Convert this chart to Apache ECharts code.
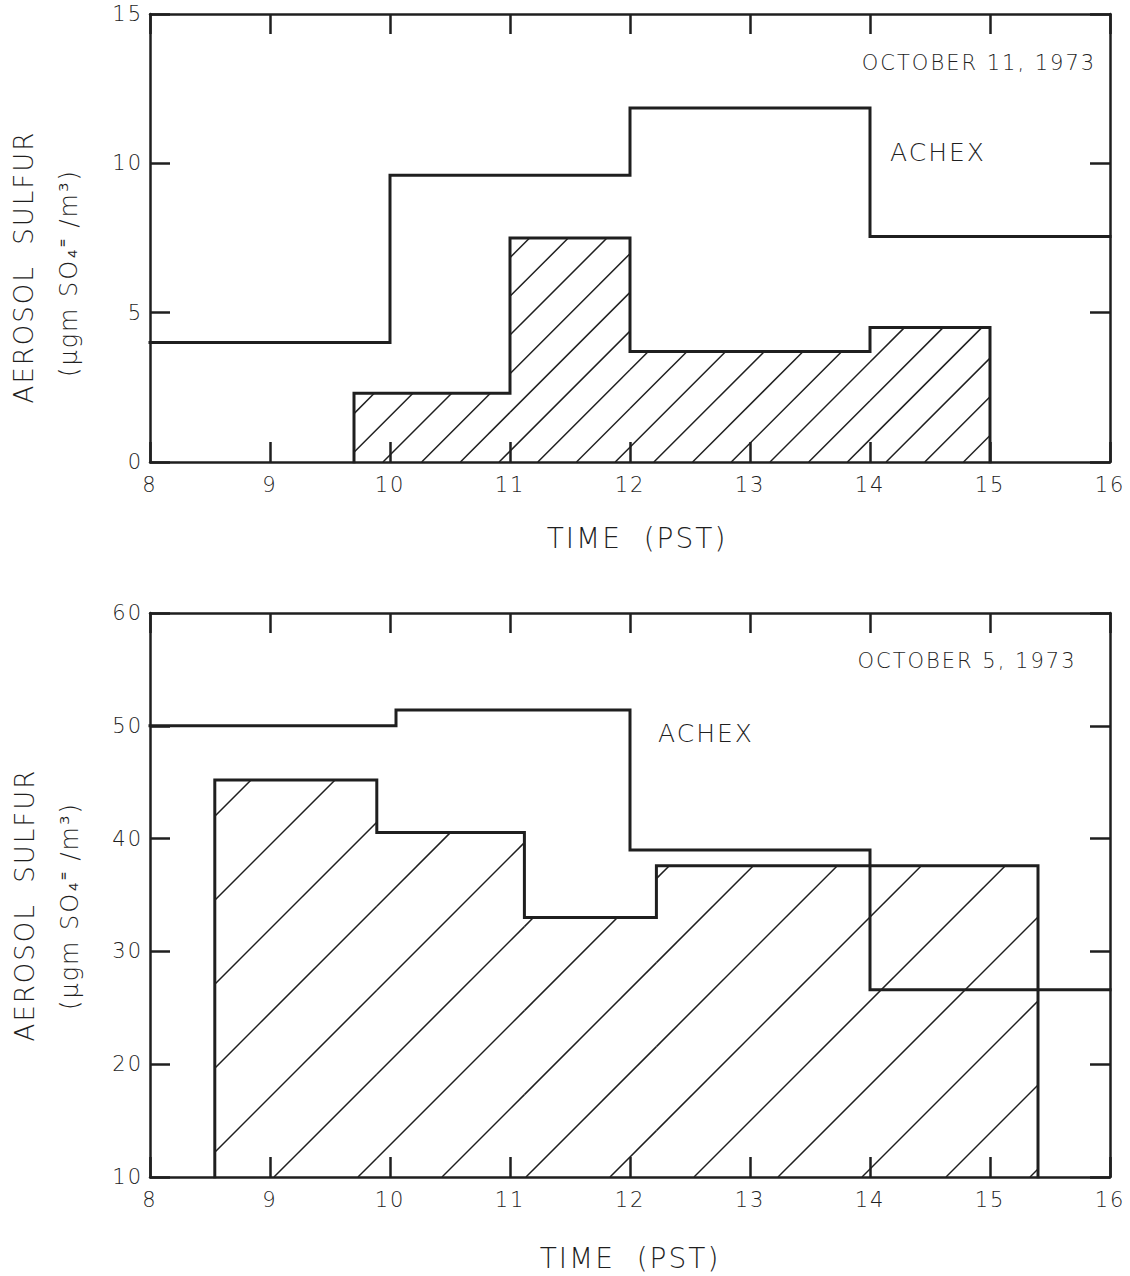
<!DOCTYPE html>
<html>
<head>
<meta charset="utf-8">
<script src="https://cdn.jsdelivr.net/npm/echarts@6/dist/echarts.min.js"></script>
<style>
  html, body { margin: 0; padding: 0; background: #fff; }
  #chart { width: 1130px; height: 1276px; }
  /* hand-lettered look: open up the glyph spacing */
  #chart text { letter-spacing: 2px; }
</style>
</head>
<body>
<div id="chart"></div>
<script>
// ---- data ----------------------------------------------------------------
// Time axis (hours, PST)
const hourMin = 8;
const hourMax = 16;

// October 11, 1973: ACHEX sampler intervals and values (ug SO4=/m3)
const oct11AchexEdges  = [8, 10, 12, 14, 16];
const oct11AchexValues = [4.0, 9.6, 11.85, 7.55];
// October 11, 1973: hatched (filter) sampler intervals and values
const oct11FilterEdges  = [9.7, 11, 12, 14, 15];
const oct11FilterValues = [2.3, 7.5, 3.7, 4.5];
const oct11YRange = [0, 15, 5];   // min, max, step

// October 5, 1973: ACHEX sampler
const oct5AchexEdges  = [8, 10.05, 12, 14, 16];
const oct5AchexValues = [50, 51.4, 39.0, 26.6];
// October 5, 1973: hatched (filter) sampler
const oct5FilterEdges  = [8.54, 9.89, 11.12, 12.22, 15.4];
const oct5FilterValues = [45.2, 40.55, 33.0, 37.6];
const oct5YRange = [10, 60, 10];

// ---- helpers -------------------------------------------------------------
const INK = '#1f1f1f';
const FONT = 'DejaVu Sans';

// Corner points for a step outline (step: 'end'); optional base closes the box
function stepPoints(edges, values, base) {
  const pts = [];
  if (base != null) pts.push([edges[0], base]);
  values.forEach((v, i) => pts.push([edges[i], v]));
  pts.push([edges[edges.length - 1], values[values.length - 1]]);
  if (base != null) pts.push([edges[edges.length - 1], base]);
  return pts;
}

// [start, end, value] rows for the hatch renderer
function intervals(edges, values) {
  return values.map((v, i) => [edges[i], edges[i + 1], v]);
}

// Diagonal hatching (x + y = const in pixels) clipped to each interval box
function hatchRenderer(base, spacing, phase) {
  return function (params, api) {
    const tl = api.coord([api.value(0), api.value(2)]);
    const br = api.coord([api.value(1), base]);
    const L = tl[0], T = tl[1], R = br[0], B = br[1];
    const children = [];
    const k0 = Math.ceil((L + T - phase) / spacing);
    const k1 = Math.floor((R + B - phase) / spacing);
    for (let k = k0; k <= k1; k++) {
      const c = phase + k * spacing;
      const ya = Math.max(T, c - R);
      const yb = Math.min(B, c - L);
      if (yb - ya < 1) continue;
      children.push({
        type: 'line',
        shape: { x1: c - ya, y1: ya, x2: c - yb, y2: yb },
        style: { stroke: INK, lineWidth: 1.5 }
      });
    }
    return { type: 'group', children };
  };
}

function xAxes(gridIndex) {
  const common = {
    type: 'value', gridIndex, min: hourMin, max: hourMax, interval: 1,
    axisLine: { show: true, onZero: false, lineStyle: { color: INK, width: 2.5 } },
    axisTick: { show: true, inside: true, length: 20, lineStyle: { color: INK, width: 2.5 } },
    splitLine: { show: false }
  };
  return [
    Object.assign({}, common, {
      position: 'bottom',
      axisLabel: { show: true, margin: 12, color: INK, fontFamily: FONT, fontSize: 21, fontWeight: 200 }
    }),
    Object.assign({}, common, { position: 'top', axisLabel: { show: false } })
  ];
}

function yAxes(gridIndex, range) {
  const common = {
    type: 'value', gridIndex, min: range[0], max: range[1], interval: range[2],
    axisLine: { show: true, onZero: false, lineStyle: { color: INK, width: 2.5 } },
    axisTick: { show: true, inside: true, length: 20, lineStyle: { color: INK, width: 2.5 } },
    splitLine: { show: false }
  };
  return [
    Object.assign({}, common, {
      position: 'left',
      axisLabel: { show: true, margin: 7, color: INK, fontFamily: FONT, fontSize: 21, fontWeight: 200 }
    }),
    Object.assign({}, common, { position: 'right', axisLabel: { show: false } })
  ];
}

function stepLine(xi, yi, data, z) {
  return {
    type: 'line', xAxisIndex: xi, yAxisIndex: yi, step: 'end',
    symbol: 'none', silent: true, z: z || 3,
    lineStyle: { color: INK, width: 3, cap: 'square', join: 'miter' },
    data
  };
}

function hatchSeries(xi, yi, edges, values, base, spacing, phase) {
  return {
    type: 'custom', xAxisIndex: xi, yAxisIndex: yi, silent: true, z: 2,
    renderItem: hatchRenderer(base, spacing, phase),
    encode: { x: [0, 1], y: 2 },
    data: intervals(edges, values)
  };
}

function label(text, x, y, size, rotate) {
  return {
    type: 'text', x, y, rotation: rotate ? Math.PI / 2 : 0, silent: true,
    style: {
      text, fill: INK, font: `200 ${size}px "${FONT}"`,
      textAlign: 'center', textVerticalAlign: 'middle'
    }
  };
}

// ---- chart ---------------------------------------------------------------
const chart = echarts.init(document.getElementById('chart'), null, { renderer: 'svg' });

chart.setOption({
  animation: false,
  backgroundColor: '#ffffff',
  grid: [
    { left: 150, right: 20, top: 14, height: 448 },
    { left: 150, right: 20, top: 613, height: 564 }
  ],
  xAxis: [].concat(xAxes(0), xAxes(1)),
  yAxis: [].concat(yAxes(0, oct11YRange), yAxes(1, oct5YRange)),
  series: [
    hatchSeries(0, 0, oct11FilterEdges, oct11FilterValues, oct11YRange[0], 38.7, 845),
    stepLine(0, 0, stepPoints(oct11FilterEdges, oct11FilterValues, oct11YRange[0])),
    stepLine(0, 0, stepPoints(oct11AchexEdges, oct11AchexValues)),
    hatchSeries(2, 2, oct5FilterEdges, oct5FilterValues, oct5YRange[0], 84, 1451),
    stepLine(2, 2, stepPoints(oct5FilterEdges, oct5FilterValues, oct5YRange[0])),
    stepLine(2, 2, stepPoints(oct5AchexEdges, oct5AchexValues))
  ],
  graphic: [
    label('OCTOBER 11, 1973', 979, 63, 21),
    label('ACHEX', 938, 152, 25),
    label('TIME  (PST)', 637, 538, 28),
    label('AEROSOL  SULFUR', 24, 267, 26, true),
    label('(\u03BCgm SO\u2084\u207C /m\u00B3)', 69, 273, 24, true),

    label('OCTOBER 5, 1973', 967, 661, 21),
    label('ACHEX', 706, 733, 25),
    label('TIME  (PST)', 630, 1258, 28),
    label('AEROSOL  SULFUR', 25, 905, 26, true),
    label('(\u03BCgm SO\u2084\u207C /m\u00B3)', 70, 906, 24, true)
  ]
});
</script>
</body>
</html>
